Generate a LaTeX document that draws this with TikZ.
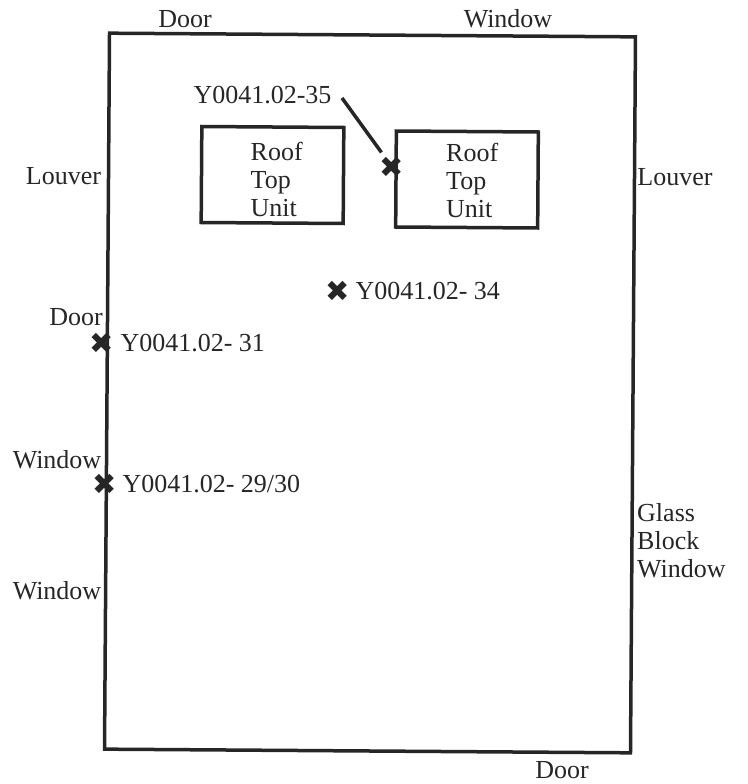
\documentclass[tikz,border=0pt]{standalone}
\usepackage{fontspec}
\setmainfont{Liberation Serif}
\newfontfamily\markfont{DejaVu Sans}
\usetikzlibrary{positioning}
\begin{document}
\begin{tikzpicture}
    [x=1pt,y=-1pt,
    wallbox/.style={rectangle, draw=black!85, line width=3.5pt, outer sep=0pt, rotate=-0.4, minimum width=526pt, minimum height=716pt},
    roofnode/.style={rectangle, draw=black!85, line width=3.5pt, outer sep=0pt, rotate=-0.4, minimum width=142pt, minimum height=96pt},
    labelnode/.style={inner sep=0pt, align=left, text=black!85, font=\fontsize{26}{28}\selectfont},
    marknode/.style={inner sep=0pt, text=black!85, font=\markfont\fontsize{29}{29}\selectfont},]

    \useasboundingbox (0,0) rectangle (747,784);

    %Nodes
    \node[wallbox](room) at (370,393){};
    \node[roofnode](roofa) at (272.5,175){};
    \node[roofnode](roofb) at (467,179.5){};
    \node[labelnode,right=49pt of roofa.west,yshift=-5pt](texta){Roof\\Top\\Unit};
    \node[labelnode,right=50pt of roofb.west,yshift=-1pt](textb){Roof\\Top\\Unit};

    \node[labelnode](doortop) at (185,19){Door};
    \node[labelnode](windowtop) at (508,19){Window};
    \node[labelnode](louverl) at (63.5,176){Louver};
    \node[labelnode](louverr) at (675,177){Louver};
    \node[labelnode](doorl) at (76,317){Door};
    \node[labelnode](windowa) at (57,460){Window};
    \node[labelnode](windowb) at (57,591){Window};
    \node[labelnode,anchor=west](glass) at (637,541){Glass\\Block\\Window};
    \node[labelnode](doorbot) at (562,770){Door};

    \node[labelnode](tag) at (262.5,95){Y0041.02-35};
    \coordinate(leadstart) at (342,98);
    \node[marknode](xe) at (392,167){\char"2716};
    \node[marknode](xd) at (338,291){\char"2716};
    \node[labelnode,right=5pt of xd](labd){Y0041.02- 34};
    \node[marknode](xa) at (102,343){\char"2716};
    \node[labelnode,right=6pt of xa](laba){Y0041.02- 31};
    \node[marknode](xb) at (105,484){\char"2716};
    \node[labelnode,right=5pt of xb](labb){Y0041.02- 29/30};

    %Lines
    \draw[line width=3.5pt, black!85, shorten >=18pt](leadstart)--(xe.center);
\end{tikzpicture}
\end{document}
